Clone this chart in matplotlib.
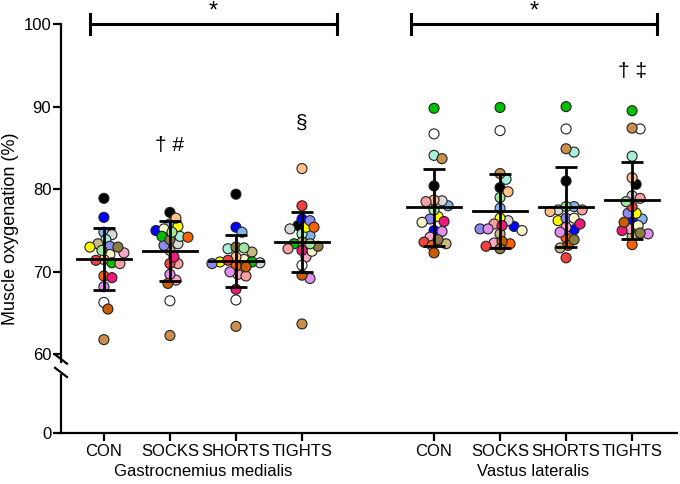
import numpy as np
import matplotlib
matplotlib.use('Agg')
import matplotlib.pyplot as plt

plt.rcParams['font.family'] = ['Liberation Sans', 'DejaVu Sans']

# Condições e grupos musculares
conditions = ['CON', 'SOCKS', 'SHORTS', 'TIGHTS']
muscles = ['Gastrocnemius medialis', 'Vastus lateralis']

# Cor de cada participante (mesma ordem nas listas abaixo)
subject_colors = ['#000000', '#0000ff', '#84b4ec', '#d8d8d8', '#a8f0dc', '#c8b884',
                  '#ffff00', '#8c8cf0', '#f8a8c8', '#f8f4cc', '#ffc08c', '#00c000',
                  '#f8a0a0', '#f04040', '#ff6000', '#f01878', '#e090ec', '#ffffff',
                  '#c85c00', '#c8904c', '#8c7c40', '#a0e8a0']

# Oxigenação muscular (%) por participante
gm_con = [78.9, 76.6, 74.8, 74.5, 73.9, 73.4, 73.0, 73.1, 72.3, 72.1, 71.5,
          71.1, 71.0, 71.4, 69.5, 69.3, 68.2, 66.3, 65.5, 61.8, 73.0, 72.6]
gm_socks = [77.2, 75.0, 75.8, 73.4, 74.3, 72.6, 75.5, 73.2, 69.0, 75.2, 76.5,
            74.3, 71.0, 71.0, 74.2, 71.8, 69.7, 66.5, 68.6, 62.3, 73.9, 74.8]
gm_shorts = [79.4, 75.4, 74.8, 71.1, 72.8, 72.4, 71.2, 71.0, 69.7, 71.5, 71.8,
             71.2, 69.5, 71.4, 70.7, 67.9, 70.0, 66.6, 70.6, 63.4, 73.0, 72.9]
gm_tights = [75.6, 76.4, 74.4, 75.2, 74.6, 73.6, 75.4, 76.2, 71.8, 72.5, 82.5,
             73.4, 72.8, 78.0, 75.4, 72.6, 69.2, 70.8, 69.6, 63.7, 73.1, 73.4]
vl_con = [80.4, 75.0, 78.0, 78.6, 84.1, 73.4, 76.7, 76.4, 74.2, 76.0, 78.7,
          89.8, 78.5, 73.6, 73.2, 76.1, 74.9, 86.7, 72.3, 83.7, 73.9, 77.5]
vl_socks = [80.2, 75.5, 77.7, 76.2, 81.2, 74.6, 76.5, 75.2, 73.5, 75.0, 79.7,
            89.9, 75.8, 73.1, 73.4, 75.6, 75.2, 87.1, 73.7, 81.9, 72.8, 79.0]
vl_shorts = [81.0, 75.1, 77.9, 77.5, 84.5, 72.9, 76.2, 76.5, 75.4, 76.5, 77.3,
             90.0, 77.5, 71.7, 74.1, 75.8, 74.8, 87.3, 73.2, 84.9, 73.9, 77.9]
vl_tights = [80.6, 76.2, 76.4, 79.2, 84.0, 74.3, 77.1, 77.1, 75.2, 75.6, 81.4,
             89.5, 78.9, 77.9, 73.3, 75.0, 74.6, 87.3, 76.0, 87.4, 74.7, 78.5]

groups = [gm_con, gm_socks, gm_shorts, gm_tights, vl_con, vl_socks, vl_shorts, vl_tights]
x_pos = [0, 1, 2, 3, 5, 6, 7, 8]
tick_labels = conditions + conditions

# Símbolos de significância
sig_marks = [(1, 85.3, '\u2020 #'), (3, 88.0, '\u00a7'), (8, 94.3, '\u2020 \u2021')]
brackets = [(-0.21, 3.53), (4.65, 8.38)]


# Escala com quebra: 0-60 comprimido, 60-100 linear
def forward(v):
    v = np.asarray(v, dtype=float)
    return np.where(v >= 60, v, 50.5 + v * 9.5 / 60)


def inverse(u):
    u = np.asarray(u, dtype=float)
    return np.where(u >= 60, u, (u - 50.5) * 60 / 9.5)


def swarm_offsets(values, px_x=66.0, px_y=8.25, min_dist=7.5):
    # espalha os pontos horizontalmente para reduzir sobreposição
    order = np.argsort(values)[::-1]
    placed = []
    offsets = np.zeros(len(values))
    for i in order:
        y = values[i] * px_y
        for k in range(200):
            dx = (k + 1) // 2 * 2.0 * (1 if k % 2 else -1)
            ok = all((dx - px) ** 2 + (y - py) ** 2 >= min_dist ** 2 for px, py in placed)
            if ok:
                break
        placed.append((dx, y))
        offsets[i] = dx / px_x
    return offsets


fig = plt.figure(figsize=(6.8, 4.84), dpi=100)
ax = fig.add_axes([0.0897, 0.1054, 0.9059, 0.845])
ax.set_yscale('function', functions=(forward, inverse))
ax.set_ylim(0, 100)
ax.set_xlim(-0.65, 8.68)

for xp, vals in zip(x_pos, groups):
    vals = np.array(vals)
    offs = swarm_offsets(vals)
    ax.scatter(xp + offs, vals, s=52, c=subject_colors, edgecolors='#222222',
               linewidths=0.8, zorder=2)
    m = np.mean(vals)
    sd = np.std(vals, ddof=1)
    ax.plot([xp - 0.41, xp + 0.41], [m, m], color='black', lw=2, zorder=3)
    ax.errorbar(xp, m, yerr=sd, fmt='none', ecolor='black', elinewidth=2,
                capsize=8, capthick=2, zorder=3)

# Colchetes com asterisco
for x0, x1 in brackets:
    ax.plot([x0, x1], [100, 100], color='black', lw=2.2, clip_on=False)
    ax.plot([x0, x0], [98.8, 101.2], color='black', lw=2.2, clip_on=False)
    ax.plot([x1, x1], [98.8, 101.2], color='black', lw=2.2, clip_on=False)
    ax.text((x0 + x1) / 2, 100.2, '*', ha='center', va='bottom', fontsize=17,
            clip_on=False)

for xp, yv, s in sig_marks:
    ax.text(xp, yv, s, ha='center', va='center', fontsize=15)

# Eixos
ax.spines['top'].set_visible(False)
ax.spines['right'].set_visible(False)
ax.spines['left'].set_visible(False)
ax.spines['bottom'].set_linewidth(1.6)
ytr = ax.get_yaxis_transform()
ax.plot([0, 0], [100, 54.4], color='black', lw=1.6, transform=ytr, clip_on=False)
ax.plot([0, 0], [44.0, 0], color='black', lw=1.6, transform=ytr, clip_on=False)
ax.plot([-0.0097, 0.0097], [60.0, 53.0], color='black', lw=1.6, transform=ytr, clip_on=False)
ax.plot([-0.0097, 0.0097], [49.8, 42.8], color='black', lw=1.6, transform=ytr, clip_on=False)

ax.set_yticks([0, 60, 70, 80, 90, 100])
ax.set_yticklabels(['0', '60', '70', '80', '90', '100'])
ax.minorticks_off()
ax.set_xticks(x_pos)
ax.set_xticklabels(tick_labels)
ax.tick_params(axis='both', direction='out', length=6, width=1.6, labelsize=12)
ax.tick_params(axis='x', pad=2)
ax.tick_params(axis='y', pad=1)
ax.set_ylabel('Muscle oxygenation (%)', fontsize=13, labelpad=3)

xtr = ax.get_xaxis_transform()
ax.text(1.5, -0.095, muscles[0], transform=xtr, ha='center', va='center', fontsize=12)
ax.text(6.5, -0.095, muscles[1], transform=xtr, ha='center', va='center', fontsize=12)

fig.savefig('out.png', dpi=100)
